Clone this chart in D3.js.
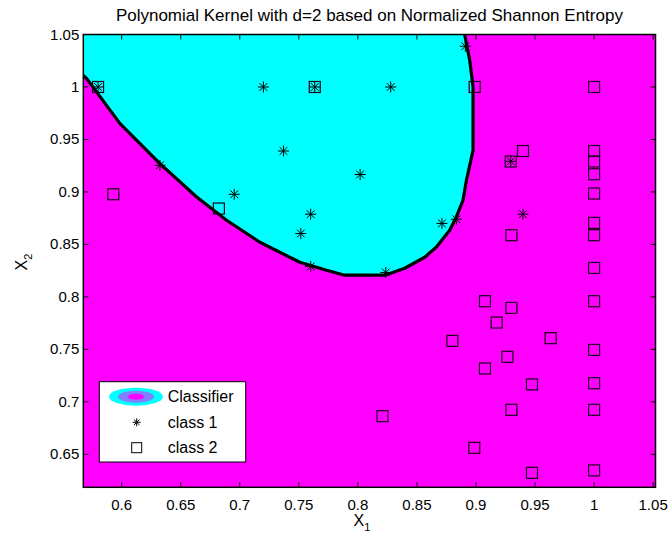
<!DOCTYPE html>
<html>
<head>
<meta charset="utf-8">
<script src="https://d3js.org/d3.v7.min.js"></script>
<style>
    body { margin: 0; background: white; }
    text { font-family: "Liberation Sans", Arial, sans-serif; }
</style>
</head>
<body>
<script>
//tick labels
var xTicks = [0.6, 0.65, 0.7, 0.75, 0.8, 0.85, 0.9, 0.95, 1, 1.05];
var yTicks = [0.65, 0.7, 0.75, 0.8, 0.85, 0.9, 0.95, 1, 1.05];

//class 1 samples (stars)
var class1X = [0.580, 0.720, 0.7635, 0.8278, 0.737, 0.6953, 0.760, 0.8019, 0.7517,
    0.8712, 0.9294, 0.9398, 0.891, 0.8834, 0.8236, 0.6324, 0.760];
var class1Y = [1.0, 1.0, 1.0, 1.0, 0.939, 0.8978, 0.8788, 0.9166, 0.8604,
    0.870, 0.9292, 0.8788, 1.0388, 0.874, 0.8233, 0.9254, 0.829];

//class 2 samples (squares)
var class2X = [0.580, 0.7635, 0.5929, 0.6823, 0.8989, 0.9398, 0.9294, 0.930,
    1, 1, 1, 1, 1, 1, 1, 1, 1, 1, 1, 1, 1,
    0.9076, 0.930, 0.9175, 0.880, 0.9632, 0.9266, 0.9076, 0.9474, 0.930, 0.8208, 0.8986, 0.9474];
var class2Y = [1.0, 1.0, 0.8978, 0.8842, 1.0, 0.939, 0.929, 0.8588,
    1.0, 0.939, 0.929, 0.9169, 0.8985, 0.8705, 0.8588, 0.8276, 0.7959, 0.7495, 0.7178, 0.6924, 0.6347,
    0.7959, 0.7895, 0.7756, 0.7581, 0.7607, 0.7429, 0.7318, 0.7166, 0.6924, 0.6864, 0.6562, 0.6324];

//decision boundary of the classifier
var boundaryX = [0.5675, 0.5704, 0.5986, 0.6324, 0.6635, 0.6888, 0.7170, 0.7508, 0.7734, 0.7889,
    0.8228, 0.8397, 0.8566, 0.8665, 0.8777, 0.8834, 0.8890, 0.8919, 0.8947, 0.8975, 0.8975, 0.8947, 0.8904];
var boundaryY = [1.0111, 1.008, 0.9651, 0.9270, 0.8952, 0.8730, 0.8521, 0.8330, 0.8254, 0.8207,
    0.8207, 0.8273, 0.8378, 0.8476, 0.8635, 0.8762, 0.8921, 0.9111, 0.9254, 0.9397, 1.0, 1.0254, 1.05];

var width = 672;
var height = 537;
var mLeft = 83.3, mRight = 655.5, mTop = 34.5, mBottom = 487.3;

var svg = d3.select("body").append("svg")
    .attr("width", width)
    .attr("height", height);

var x = d3.scaleLinear().domain([0.5675, 1.052]).range([mLeft, mRight]);
var y = d3.scaleLinear().domain([0.6186, 1.05]).range([mBottom, mTop]);

svg.append("clipPath").attr("id", "clip")
    .append("rect")
    .attr("x", mLeft).attr("y", mTop)
    .attr("width", mRight - mLeft).attr("height", mBottom - mTop);

var plot = svg.append("g").attr("clip-path", "url(#clip)");

//magenta background = class 2 region
plot.append("rect")
    .attr("x", mLeft).attr("y", mTop)
    .attr("width", mRight - mLeft).attr("height", mBottom - mTop)
    .style("fill", "#ff00ff");

var boundary = boundaryX.map(function(d, i){ return [d, boundaryY[i]]; });
var line = d3.line().x(function(d){return x(d[0]);}).y(function(d){return y(d[1]);});

//cyan region = class 1
var region = boundary.concat([[0.5675, 1.05]]);
plot.append("path")
    .attr("d", line(region) + "Z")
    .style("fill", "#00ffff");

plot.append("path")
    .attr("d", line(boundary))
    .style("fill", "none")
    .style("stroke", "#000")
    .style("stroke-width", 3.2)
    .style("stroke-linejoin", "round");

//squares
var sq = 11;
plot.selectAll(".sq")
    .data(class2X)
    .enter()
    .append("rect")
    .attr("class", "sq")
    .attr("x", function(d){return x(d) - sq/2;})
    .attr("y", function(d, i){return y(class2Y[i]) - sq/2;})
    .attr("width", sq)
    .attr("height", sq)
    .style("fill", "none")
    .style("stroke", "#1a001a")
    .style("stroke-width", 1.2);

//stars
function star(g, cx, cy, r){
    var s = r * 0.7;
    var p = "M" + (cx - r) + "," + cy + "H" + (cx + r) +
        "M" + cx + "," + (cy - r) + "V" + (cy + r) +
        "M" + (cx - s) + "," + (cy - s) + "L" + (cx + s) + "," + (cy + s) +
        "M" + (cx - s) + "," + (cy + s) + "L" + (cx + s) + "," + (cy - s);
    g.append("path").attr("d", p).style("stroke", "#000").style("stroke-width", 1).style("fill", "none");
}
class1X.forEach(function(d, i){
    star(plot, x(d), y(class1Y[i]), 5.5);
});

//frame and ticks
svg.append("rect")
    .attr("x", mLeft).attr("y", mTop)
    .attr("width", mRight - mLeft).attr("height", mBottom - mTop)
    .style("fill", "none")
    .style("stroke", "#000")
    .style("stroke-width", 1.5);

var tl = 5;
xTicks.forEach(function(t){
    svg.append("line").attr("x1", x(t)).attr("x2", x(t)).attr("y1", mBottom).attr("y2", mBottom - tl).style("stroke", "#000");
    svg.append("line").attr("x1", x(t)).attr("x2", x(t)).attr("y1", mTop).attr("y2", mTop + tl).style("stroke", "#000");
    svg.append("text").attr("x", x(t)).attr("y", mBottom + 23)
        .attr("text-anchor", "middle").style("font-size", "15px").text(t);
});
yTicks.forEach(function(t){
    svg.append("line").attr("x1", mLeft).attr("x2", mLeft + tl).attr("y1", y(t)).attr("y2", y(t)).style("stroke", "#000");
    svg.append("line").attr("x1", mRight).attr("x2", mRight - tl).attr("y1", y(t)).attr("y2", y(t)).style("stroke", "#000");
    svg.append("text").attr("x", mLeft - 4).attr("y", y(t) + 5)
        .attr("text-anchor", "end").style("font-size", "15px").text(t);
});

//title
svg.append("text").attr("x", (mLeft + mRight) / 2).attr("y", 21)
    .attr("text-anchor", "middle").style("font-size", "17px")
    .text("Polynomial Kernel with d=2 based on Normalized Shannon Entropy");

//axis labels
var xl = svg.append("text").attr("x", 362).attr("y", 526).attr("text-anchor", "middle").style("font-size", "16px");
xl.append("tspan").text("X");
xl.append("tspan").attr("dy", 5).style("font-size", "11px").text("1");

var yl = svg.append("text").attr("transform", "translate(27,262) rotate(-90)").attr("text-anchor", "middle").style("font-size", "16px");
yl.append("tspan").text("X");
yl.append("tspan").attr("dy", 5).style("font-size", "11px").text("2");

//legend
var legend = svg.append("g").attr("class", "legend");
legend.append("rect")
    .attr("x", 99.3).attr("y", 381.7).attr("width", 146.4).attr("height", 80.3)
    .style("fill", "white").style("stroke", "#000");

legend.append("ellipse").attr("cx", 136).attr("cy", 396.7).attr("rx", 27).attr("ry", 9).style("fill", "#00ffff");
legend.append("ellipse").attr("cx", 136).attr("cy", 396.7).attr("rx", 18).attr("ry", 6).style("fill", "#8080ff");
legend.append("ellipse").attr("cx", 136).attr("cy", 396.7).attr("rx", 8).attr("ry", 3).style("fill", "#ff00ff");
star(legend, 136.7, 422.3, 4);
legend.append("rect").attr("x", 131.7).attr("y", 442.7).attr("width", 10).attr("height", 10)
    .style("fill", "none").style("stroke", "#000");

var labels = ["Classifier", "class 1", "class 2"];
var ly = [396.7, 422.3, 447.7];
labels.forEach(function(l, i){
    legend.append("text").attr("x", 167.7).attr("y", ly[i] + 5.5).style("font-size", "16px").text(l);
});
</script>
</body>
</html>
